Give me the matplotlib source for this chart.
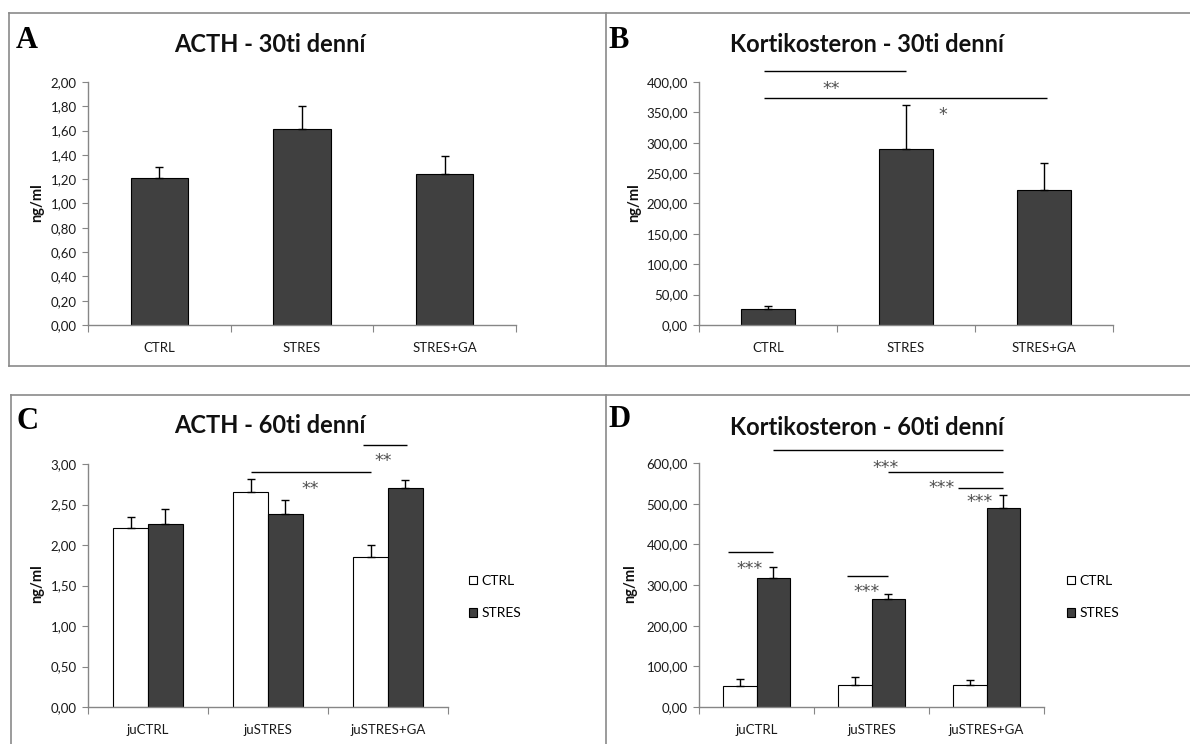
import matplotlib
matplotlib.use("Agg")
import matplotlib.pyplot as plt
import numpy as np
from matplotlib.lines import Line2D
from matplotlib.patches import Patch
from matplotlib.ticker import FixedLocator, FuncFormatter

# ---------------- data ----------------
groups_30 = ["CTRL", "STRES", "STRES+GA"]
groups_60 = ["juCTRL", "juSTRES", "juSTRES+GA"]
series_60 = ["CTRL", "STRES"]

acth30_mean = [1.21, 1.61, 1.24]
acth30_err = [0.09, 0.19, 0.15]

kort30_mean = [26.0, 290.0, 222.0]
kort30_err = [6.0, 72.0, 44.0]

acth60_ctrl = [2.21, 2.65, 1.85]
acth60_ctrl_err = [0.14, 0.17, 0.15]
acth60_stres = [2.26, 2.38, 2.70]
acth60_stres_err = [0.18, 0.18, 0.10]

kort60_ctrl = [51.0, 53.0, 53.0]
kort60_ctrl_err = [19.0, 22.0, 13.0]
kort60_stres = [317.0, 265.0, 490.0]
kort60_stres_err = [28.0, 13.0, 32.0]

titles = ["ACTH - 30ti denní", "Kortikosteron - 30ti denní",
          "ACTH - 60ti denní", "Kortikosteron - 60ti denní"]
panel_letters = ["A", "B", "C", "D"]
ylabel = "ng/ml"

# ---------------- style ----------------
W, H = 1190, 744
FONT = "Lato"
DARK = "#404040"
SPINE = "#868686"
BORDER = "#8a8a8a"
TICKFS = 9.5
STARFS = 12.5

plt.rcParams["font.family"] = [FONT, "DejaVu Sans"]

fig = plt.figure(figsize=(W / 100, H / 100), dpi=100)
fig.patch.set_facecolor("white")


def fx(x):
    return x / W


def fy(y):
    return 1 - y / H


def add_ax(x0, y0, x1, y1):
    return fig.add_axes([fx(x0), fy(y1), (x1 - x0) / W, (y1 - y0) / H])


def fmt_comma(v, pos=None):
    return f"{v:.2f}".replace(".", ",")


def style_ax(ax, cats, ymax, ystep):
    ax.set_xlim(-0.5, len(cats) - 0.5)
    ax.set_ylim(0, ymax)
    for s in ["top", "right"]:
        ax.spines[s].set_visible(False)
    for s in ["left", "bottom"]:
        ax.spines[s].set_color(SPINE)
        ax.spines[s].set_linewidth(1.0)
    ax.yaxis.set_major_locator(FixedLocator(np.arange(0, ymax + ystep / 2, ystep)))
    ax.yaxis.set_major_formatter(FuncFormatter(fmt_comma))
    ax.tick_params(axis="y", direction="out", length=4, width=0.8, color=SPINE,
                   labelsize=TICKFS, pad=4, labelcolor="#1a1a1a")
    ax.xaxis.set_major_locator(FixedLocator(np.arange(-0.5, len(cats), 1.0)))
    ax.xaxis.set_major_formatter(FuncFormatter(lambda v, p: ""))
    ax.set_xticks(np.arange(len(cats)), minor=True)
    ax.set_xticklabels(cats, minor=True)
    ax.tick_params(axis="x", which="major", direction="out", length=5, width=0.8, color=SPINE)
    ax.tick_params(axis="x", which="minor", length=0, labelsize=TICKFS, pad=12,
                   labelcolor="#1a1a1a")
    ax.set_facecolor("none")


def bracket(ax, x1, x2, y, text, tx, ty):
    ax.plot([x1, x2], [y, y], color="black", lw=1.0, clip_on=False,
            solid_capstyle="butt")
    ax.annotate(text, xy=(tx, ty), xytext=(0, -0.59 * STARFS),
                textcoords="offset points", ha="center", va="baseline",
                fontsize=STARFS, color="#505050", family="DejaVu Sans",
                annotation_clip=False)


ebkw = dict(ecolor="black", elinewidth=1.0, capsize=3, capthick=1.0)

# ---------------- panel borders ----------------
def fline(xs, ys, **kw):
    fig.add_artist(Line2D([fx(x) for x in xs], [fy(y) for y in ys],
                          color=BORDER, lw=1.2, **kw))

fline([9, 1190], [13, 13])
fline([9, 1190], [366, 366])
fline([9, 9], [13, 366])
fline([606, 606], [13, 366])
fline([11, 1190], [395, 395])
fline([11, 11], [395, 744])
fline([606, 606], [395, 744])

# ---------------- panel A ----------------
axA = add_ax(88, 82, 516, 325)
xA = np.arange(len(groups_30))
axA.bar(xA, acth30_mean, width=0.4, color=DARK, edgecolor="black", linewidth=0.8,
        yerr=[np.zeros(3), acth30_err], error_kw=ebkw, zorder=2)
style_ax(axA, groups_30, 2.0, 0.2)

# ---------------- panel B ----------------
axB = add_ax(699, 82, 1113, 325)
xB = np.arange(len(groups_30))
axB.bar(xB, kort30_mean, width=0.39, color=DARK, edgecolor="black", linewidth=0.8,
        yerr=[np.zeros(3), kort30_err], error_kw=ebkw, zorder=2)
style_ax(axB, groups_30, 400.0, 50.0)
bracket(axB, -0.03, 1.0, 418, "**", 0.46, 397)
bracket(axB, -0.03, 2.02, 374, "*", 1.27, 355)

# ---------------- panel C ----------------
bw = 0.29
axC = add_ax(88, 464, 448, 707)
xC = np.arange(len(groups_60))
axC.bar(xC - bw / 2, acth60_ctrl, width=bw, color="white", edgecolor="black",
        linewidth=0.8, yerr=[np.zeros(3), acth60_ctrl_err], error_kw=ebkw,
        zorder=2, label=series_60[0])
axC.bar(xC + bw / 2, acth60_stres, width=bw, color=DARK, edgecolor="black",
        linewidth=0.8, yerr=[np.zeros(3), acth60_stres_err], error_kw=ebkw,
        zorder=2, label=series_60[1])
style_ax(axC, groups_60, 3.0, 0.5)
bracket(axC, 1 - bw / 2, 2 - bw / 2, 2.906, "**", 1.35, 2.75)
bracket(axC, 1.79, 2.16, 3.235, "**", 1.96, 3.10)

# ---------------- panel D ----------------
axD = add_ax(699, 463, 1044, 707)
xD = np.arange(len(groups_60))
axD.bar(xD - bw / 2, kort60_ctrl, width=bw, color="white", edgecolor="black",
        linewidth=0.8, yerr=[np.zeros(3), kort60_ctrl_err], error_kw=ebkw,
        zorder=2, label=series_60[0])
axD.bar(xD + bw / 2, kort60_stres, width=bw, color=DARK, edgecolor="black",
        linewidth=0.8, yerr=[np.zeros(3), kort60_stres_err], error_kw=ebkw,
        zorder=2, label=series_60[1])
style_ax(axD, groups_60, 600.0, 100.0)
bracket(axD, bw / 2, 2 + bw / 2, 633, "***", 1.12, 600)
bracket(axD, 1 + bw / 2, 2 + bw / 2, 579, "***", 1.61, 552)
bracket(axD, 1.75, 2 + bw / 2, 538, "***", 1.94, 518)
bracket(axD, -0.25, bw / 2, 381, "***", -0.06, 352)
bracket(axD, 0.79, 1 + bw / 2, 321, "***", 0.96, 296)

# ---------------- legends ----------------
for ax, lx in [(axC, 469), (axD, 1067)]:
    handles = [Patch(facecolor="white", edgecolor="black", linewidth=0.8),
               Patch(facecolor=DARK, edgecolor="black", linewidth=0.8)]
    ax.legend(handles, series_60, loc="center left",
              bbox_to_anchor=(fx(lx), fy(597)), bbox_transform=fig.transFigure,
              frameon=False, fontsize=10, handlelength=0.6, handleheight=0.6,
              handletextpad=0.3, labelspacing=1.45, borderpad=0, borderaxespad=0)

# ---------------- titles, letters, y labels ----------------
title_pos = [(270, 45), (867, 45), (270, 425), (867, 427)]
for t, (x, y) in zip(titles, title_pos):
    fig.text(fx(x), fy(y), t, ha="center", va="center", fontsize=17,
             fontweight="bold", color="#111111")

letter_pos = [(16, 48), (608, 48), (17, 429), (608, 427)]
for L, (x, y) in zip(panel_letters, letter_pos):
    fig.text(fx(x), fy(y), L, ha="left", va="baseline", fontsize=22,
             fontweight="bold", family="Liberation Serif", color="black")

ylab_pos = [(37, 203), (634, 203), (37, 584), (630, 584)]
for (x, y) in ylab_pos:
    fig.text(fx(x), fy(y), ylabel, ha="center", va="center", rotation=90,
             fontsize=10.5, fontweight="bold", color="#111111")

fig.savefig("out.png", dpi=100, facecolor="white")
